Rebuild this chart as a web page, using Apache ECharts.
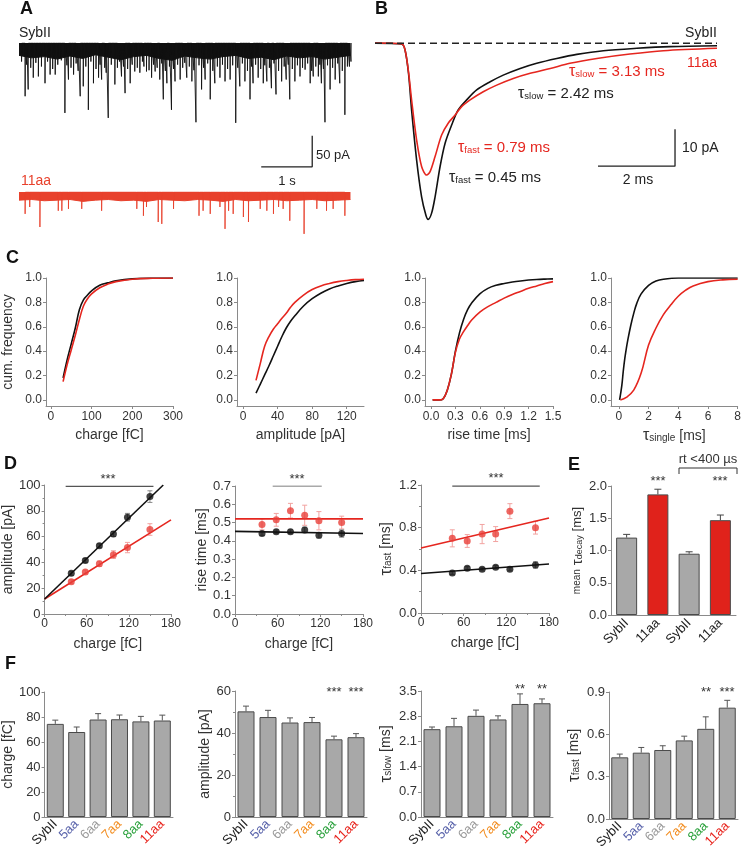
<!DOCTYPE html>
<html><head><meta charset="utf-8">
<script src="https://cdn.jsdelivr.net/npm/echarts@6/dist/echarts.min.js"></script>
<style>html,body{margin:0;padding:0;background:#fff}#c{width:744px;height:853px}</style>
</head><body><div id="c"></div>
<script>
// ===================== DATA =====================
// Panel A: raw traces (time s, amplitude pA of events)
const aBlackEventT = [0.12,0.18,0.28,0.38,0.51,0.61,0.71,0.90,0.97,1.07,1.20,1.26,1.36,1.46,1.56,1.62,1.75,1.88,2.01,2.08,2.18,2.27,2.37,2.50,2.60,2.67,2.76,2.83,2.90,2.99,3.06,3.16,3.29,3.39,3.47,3.58,3.65,3.75,3.84,3.94,4.04,4.14,4.25,4.33,4.43,4.53,4.59,4.69,4.79,4.86,4.95,5.04,5.15,5.24,5.31,5.41,5.51,5.61,5.71,5.77,5.87,5.93,6.00,6.10,6.20,6.29,6.39,6.48];
const aBlackEventAmp = [86,75,56,54,65,51,51,113,59,51,86,70,108,65,56,59,121,67,54,81,65,46,48,46,56,46,59,91,65,108,62,59,56,62,128,75,59,91,65,56,62,59,129,70,62,91,65,56,65,62,73,83,62,59,91,62,54,43,65,54,54,65,128,75,59,65,116,38];
const aBlackSmallT = [0.05,0.15,0.23,0.33,0.44,0.56,0.66,0.76,0.83,0.94,1.02,1.12,1.16,1.31,1.41,1.51,1.59,1.68,1.71,1.81,1.93,1.97,2.05,2.13,2.22,2.32,2.42,2.45,2.55,2.64,2.71,2.80,2.87,2.95,3.03,3.11,3.21,3.25,3.34,3.43,3.53,3.62,3.70,3.80,3.89,3.99,4.09,4.19,4.29,4.38,4.48,4.56,4.64,4.74,4.82,4.91,5.00,5.09,5.20,5.28,5.36,5.46,5.56,5.66,5.74,5.82,5.90,5.97,6.05,6.15,6.25,6.34,6.44,6.51];
const aBlackSmallAmp = [30,35,40,32,38,30,42,35,28,36,40,33,45,38,30,42,35,40,48,35,40,30,38,42,35,40,30,38,44,35,40,33,45,38,42,35,40,32,38,44,36,40,33,45,38,35,42,36,40,33,45,38,35,42,36,40,33,45,38,35,42,36,40,33,45,38,35,42,36,40,33,45,38,30];
const aBandT = [0,0.25,0.5,0.75,1.0,1.25,1.5,1.75,2.0,2.25,2.5,2.75,3.0,3.25,3.5,3.75,4.0,4.25,4.5,4.75,5.0,5.25,5.5,5.75,6.0,6.25,6.5];
const aBlackBandAmp = [20,24,22,26,21,25,19,23,27,22,20,25,28,21,24,26,22,20,25,23,27,21,24,22,26,23,20];
const aRedBandAmp = [13,12,14,13,12,15,13,12,14,13,15,12,13,14,12,13,15,12,14,13,12,14,13,12,14,13,12];
const aRedEventT = [0.12,0.21,0.41,0.77,0.84,0.97,1.23,1.62,2.31,2.44,2.50,2.73,2.80,3.03,3.53,3.61,3.75,3.94,4.04,4.11,4.20,4.40,4.50,4.73,4.86,4.99,5.09,5.18,5.31,5.59,5.84,6.03,6.16,6.39];
const aRedEventAmp = [35,24,56,30,30,27,27,30,27,38,24,48,51,27,38,30,35,24,59,30,35,40,48,27,30,35,24,27,46,67,27,30,27,38];
const aScale = {t: 5.75, base: -200, dt: 1, dy: 50};   // 1 s / 50 pA

// Panel B: averaged events (time ms, current pA)
const bBlackT = [0,0.69,0.78,0.87,0.95,1.08,1.21,1.32,1.38,1.47,1.56,1.69,1.82,1.99,2.16,2.38,2.64,2.99,3.33,3.77,4.20,4.72,5.24,5.93,6.80,7.66,8.88];
const bBlackI = [0,-0.2,-1.8,-8.1,-18.0,-31.5,-41.5,-46.4,-47.6,-45.9,-41.5,-33.3,-27.0,-22.1,-18.0,-15.3,-12.6,-10.4,-8.6,-6.8,-5.4,-4.1,-3.0,-2.0,-1.35,-0.9,-0.65];
const bRedT = [0,0.69,0.78,0.87,0.95,1.08,1.21,1.34,1.43,1.56,1.73,1.90,2.08,2.25,2.47,2.81,3.16,3.59,4.03,4.55,5.06,5.76,6.62,7.49,8.88];
const bRedI = [0.1,-0.1,-1.8,-7.7,-15.3,-26.1,-33.3,-35.6,-34.7,-30.6,-24.8,-21.6,-19.4,-17.1,-15.3,-13.1,-11.3,-9.5,-8.1,-6.8,-5.4,-4.1,-2.9,-2.0,-1.35];
const bScale = {t: 7.79, base: -33.2, dt: 2, dy: 10};  // 2 ms / 10 pA

// Panel C: cumulative distributions
const cChargeX = [30,40,50,60,70,80,90,100,120,140,160,200,250,300];
const cChargeBlack = [0.18,0.33,0.46,0.59,0.74,0.82,0.86,0.895,0.94,0.96,0.977,0.993,0.999,1.0];
const cChargeRed = [0.15,0.29,0.41,0.53,0.66,0.77,0.83,0.87,0.92,0.95,0.97,0.99,0.998,1.0];
const cAmpX = [15,20,25,30,35,40,45,50,55,60,70,80,90,100,110,120,130,140];
const cAmpBlack = [0.055,0.13,0.205,0.28,0.36,0.44,0.52,0.59,0.645,0.69,0.77,0.83,0.875,0.91,0.935,0.955,0.97,0.98];
const cAmpRed = [0.16,0.30,0.44,0.52,0.58,0.625,0.67,0.71,0.76,0.80,0.86,0.905,0.935,0.955,0.97,0.98,0.987,0.99];
const cRiseX = [0.02,0.1,0.15,0.2,0.25,0.3,0.35,0.4,0.45,0.5,0.6,0.7,0.8,0.9,1.0,1.1,1.2,1.3,1.4,1.5];
const cRiseBlack = [0,0,0.01,0.08,0.21,0.40,0.55,0.66,0.74,0.795,0.87,0.915,0.94,0.955,0.967,0.976,0.983,0.988,0.991,0.993];
const cRiseRed = [0,0,0.01,0.08,0.21,0.39,0.50,0.56,0.61,0.655,0.72,0.765,0.80,0.835,0.865,0.89,0.915,0.935,0.955,0.97];
const cTauBlackX = [0.05,0.2,0.3,0.4,0.5,0.6,0.8,1.0,1.2,1.5,2.0,2.5,3.0,4.0,6.0,8.0];
const cTauBlack = [0,0.12,0.24,0.34,0.42,0.49,0.61,0.71,0.79,0.87,0.94,0.975,0.99,1.0,1.0,1.0];
const cTauRedX = [0.1,0.5,1.0,1.5,2.0,2.5,3.0,3.5,4.0,4.5,5.0,6.0,7.0,8.0];
const cTauRed = [0,0.02,0.08,0.22,0.45,0.59,0.70,0.78,0.85,0.90,0.935,0.97,0.985,0.99];
const cYTicks = [0,0.2,0.4,0.6,0.8,1.0];

// Panel D: binned by charge
const dChargeAB = [38,58,78,98,118,150];
const dAmpBlack = [31.5,41.5,53,62,75,91], dAmpBlackErr = [1.5,1.5,1.5,2,3,4.5];
const dAmpRed = [25,32.5,39,46,51.5,65.5], dAmpRedErr = [1.5,1.5,2,3,4,4.5];
const dAmpFitBlack = [[0,11.6],[169,100]], dAmpFitRed = [[0,11.6],[180,73]];
const dRiseBlack = [0.44,0.45,0.45,0.46,0.43,0.44], dRiseBlackErr = [0.01,0.01,0.01,0.015,0.015,0.02];
const dRiseRed = [0.49,0.515,0.565,0.54,0.51,0.50], dRiseRedErr = [0.03,0.035,0.04,0.055,0.05,0.035];
const dRiseFitBlack = [[0,0.452],[180,0.44]], dRiseFitRed = [[0,0.52],[180,0.52]];
const dChargeC = [44,65,86,105,125,161];
const dFastBlack = [0.375,0.42,0.41,0.43,0.41,0.45], dFastBlackErr = [0.015,0.015,0.015,0.015,0.015,0.03];
const dFastRed = [0.70,0.675,0.74,0.74,0.955,0.80], dFastRedErr = [0.08,0.06,0.09,0.07,0.07,0.06];
const dFastFitBlack = [[0,0.37],[180,0.46]], dFastFitRed = [[0,0.61],[180,0.89]];
const dSigAmp = [[30,99],[155,99]], dSigRise = [[53,0.7],[122,0.7]], dSigFast = [[44,1.19],[167,1.19]];

// Panel E
const eCats = ['SybII','11aa','SybII','11aa'];
const eVals = [1.2,1.87,0.95,1.47];
const eErr = [0.05,0.08,0.03,0.08];

// Panel F
const fCats = ['SybII','5aa','6aa','7aa','8aa','11aa'];
const fCatColors = ['#222','#5862aa','#9a9a9a','#f28c1e','#2aa13c','#e8231c'];
const fCharge = [74.5,68,78,78.2,76.5,77.2], fChargeErr = [3,4,4.7,3.4,4,4.3];
const fAmp = [50.3,47.6,45,45.2,37,38], fAmpErr = [2.5,3.2,2.2,2.2,1.5,1.7];
const fSlow = [2.44,2.52,2.81,2.71,3.14,3.16], fSlowErr = [0.06,0.22,0.16,0.1,0.28,0.12];
const fFast = [0.437,0.47,0.489,0.557,0.639,0.789], fFastErr = [0.023,0.037,0.03,0.03,0.085,0.052];

// ===================== BUILD =====================
const FONT = '"Liberation Sans", Arial, Helvetica, sans-serif';
const AXC = '#8a8a8a', TXC = '#333', RED = '#e5261f', BLK = '#111', TRED = '#e8412c';

function merge(a, b) {
  for (const k in b) {
    if (b[k] && typeof b[k] === 'object' && !Array.isArray(b[k]) && a[k] && typeof a[k] === 'object' && !Array.isArray(a[k])) merge(a[k], b[k]);
    else a[k] = b[k];
  }
  return a;
}
function axis(gi, o) {
  return merge({
    type: 'value', gridIndex: gi, splitLine: {show: false},
    axisLine: {show: true, onZero: false, lineStyle: {color: AXC, width: 1}},
    axisTick: {show: true, length: 3, lineStyle: {color: AXC}},
    minorTick: {show: false, length: 2, lineStyle: {color: AXC}},
    axisLabel: {fontSize: 12, color: TXC, fontFamily: FONT, margin: 4},
    nameLocation: 'middle',
    nameTextStyle: {fontSize: 14, color: TXC, fontFamily: FONT}
  }, o);
}
const f1 = v => (+v).toFixed(1);
const zip = (xs, ys) => xs.map((x, i) => [x, ys[i]]);
const tauRich = (big, small) => ({
  t: {fontSize: big, fontFamily: FONT, color: TXC},
  s: {fontSize: small, fontFamily: FONT, color: TXC, padding: [4, 0, 0, 0]},
  n: {fontSize: 13, fontFamily: FONT, color: TXC},
  m: {fontSize: 10, fontFamily: FONT, color: TXC}
});

const grids = [
  {left: 19, top: 43, width: 333, height: 130},      // 0 A black
  {left: 19, top: 192, width: 333, height: 50},      // 1 A red
  {left: 375, top: 39.6, width: 342, height: 188.7}, // 2 B
  {left: 45, top: 278, width: 128, height: 128},     // 3 C1
  {left: 237, top: 278, width: 127, height: 128},    // 4 C2
  {left: 425, top: 278, width: 128, height: 128},    // 5 C3
  {left: 611, top: 278, width: 128, height: 128},    // 6 C4
  {left: 43, top: 485, width: 128, height: 129},     // 7 D1
  {left: 235, top: 486, width: 128, height: 128},    // 8 D2
  {left: 421, top: 485, width: 128, height: 128},    // 9 D3
  {left: 611, top: 486, width: 125, height: 129},    // 10 E
  {left: 42, top: 692, width: 131, height: 125},     // 11 F1
  {left: 235, top: 691, width: 132, height: 126},    // 12 F2
  {left: 421, top: 691, width: 132, height: 126},    // 13 F3
  {left: 609, top: 692, width: 129, height: 127}     // 14 F4
];

const xAxes = [], yAxes = [];
// A, B hidden axes
xAxes.push({type: 'value', gridIndex: 0, show: false, min: 0, max: 6.53});
yAxes.push({type: 'value', gridIndex: 0, show: false, min: -210, max: 0});
xAxes.push({type: 'value', gridIndex: 1, show: false, min: 0, max: 6.53});
yAxes.push({type: 'value', gridIndex: 1, show: false, min: -80, max: 0});
xAxes.push({type: 'value', gridIndex: 2, show: false, min: 0, max: 8.88});
yAxes.push({type: 'value', gridIndex: 2, show: false, min: -50, max: 1});
// C
const cX = [
  {min: -12, max: 300, vals: [0,100,200,300], name: 'charge [fC]', fmt: v => v},
  {min: -7, max: 140, vals: [0,40,80,120], name: 'amplitude [pA]', fmt: v => v},
  {min: -0.074, max: 1.5, vals: [0,0.3,0.6,0.9,1.2,1.5], name: 'rise time [ms]', fmt: f1},
  {min: -0.53, max: 8, vals: [0,2,4,6,8], name: '{t|τ}{s|single} {n|[ms]}', fmt: v => v}
];
cX.forEach((c, i) => {
  const gi = 3 + i;
  xAxes.push(axis(gi, {min: c.min, max: c.max, name: c.name, nameGap: 22,
    nameTextStyle: {rich: merge(tauRich(16, 10), {n: {fontSize: 14}})},
    axisTick: {customValues: c.vals}, axisLabel: {customValues: c.vals, formatter: c.fmt, margin: 5}}));
  yAxes.push(axis(gi, {min: -0.05, max: 1.0, name: i === 0 ? 'cum. frequency' : '', nameGap: 31,
    axisTick: {customValues: cYTicks}, axisLabel: {customValues: cYTicks, formatter: f1}}));
});
// D
xAxes.push(axis(7, {min: 0, max: 180, interval: 60, minorTick: {show: true, splitNumber: 2}, name: 'charge [fC]', nameGap: 23}));
yAxes.push(axis(7, {min: 0, max: 100, interval: 20, minorTick: {show: true, splitNumber: 2}, name: 'amplitude [pA]', nameGap: 26, axisLabel: {fontSize: 13}}));
xAxes.push(axis(8, {min: 0, max: 180, interval: 60, minorTick: {show: true, splitNumber: 2}, name: 'charge [fC]', nameGap: 23}));
yAxes.push(axis(8, {min: 0, max: 0.7, interval: 0.1, name: 'rise time [ms]', nameGap: 25, axisLabel: {formatter: f1, fontSize: 13}}));
xAxes.push(axis(9, {min: 0, max: 180, interval: 60, minorTick: {show: true, splitNumber: 2}, name: 'charge [fC]', nameGap: 23}));
yAxes.push(axis(9, {min: 0, max: 1.2, interval: 0.4, minorTick: {show: true, splitNumber: 2}, name: '{t|τ}{s|fast} {n|[ms]}', nameGap: 21,
  nameTextStyle: {rich: merge(tauRich(17, 10), {n: {fontSize: 14}})}, axisLabel: {formatter: f1, fontSize: 13}}));
// E
xAxes.push(axis(10, {type: 'category', data: eCats, axisTick: {show: false}, axisLabel: {rotate: 45, fontSize: 13, margin: 6, color: '#222', interval: 0}}));
yAxes.push(axis(10, {min: 0, max: 2, interval: 0.5, name: '{m|mean} {t|τ}{s|decay} {n|[ms]}', nameGap: 24,
  nameTextStyle: {rich: tauRich(15, 9)}, axisLabel: {formatter: f1, fontSize: 13}}));
// F
const fY = [
  {min: 0, max: 100, interval: 20, name: 'charge [fC]', gap: 26, fmt: v => v},
  {min: 0, max: 60, interval: 20, name: 'amplitude [pA]', gap: 22, fmt: v => v, minor: true},
  {min: 0, max: 3.5, interval: 0.7, name: '{t|τ}{s|slow} {n|[ms]}', gap: 18, fmt: f1},
  {min: 0, max: 0.9, interval: 0.3, name: '{t|τ}{s|fast} {n|[ms]}', gap: 22, fmt: f1}
];
fY.forEach((c, i) => {
  const gi = 11 + i;
  xAxes.push(axis(gi, {type: 'category', data: fCats, axisTick: {show: false},
    axisLabel: {rotate: 45, fontSize: 13, margin: 5, interval: 0, color: (v, idx) => fCatColors[idx]}}));
  yAxes.push(axis(gi, {min: c.min, max: c.max, interval: c.interval, name: c.name, nameGap: c.gap,
    minorTick: {show: !!c.minor, splitNumber: 2},
    nameTextStyle: {rich: merge(tauRich(17, 10), {n: {fontSize: 14}})}, axisLabel: {formatter: c.fmt, fontSize: 13}}));
});

// ---------- series ----------
const series = [];
function spikes(ts, amps) {
  const ev = ts.map((t, i) => [t, amps[i]]).sort((a, b) => a[0] - b[0]);
  const d = [];
  ev.forEach(([t, a]) => { d.push([t, 0], [t, -a], [t + 0.004, 0]); });
  return d;
}
const lineS = (gi, data, color, w, extra) => merge({type: 'line', xAxisIndex: gi, yAxisIndex: gi, data, showSymbol: false, symbol: 'none',
  silent: true, animation: false, lineStyle: {color, width: w}, itemStyle: {color}}, extra || {});

// A
series.push(lineS(0, zip(aBandT, aBlackBandAmp.map(v => -v)), BLK, 1, {areaStyle: {color: BLK, opacity: 1, origin: 'end'}}));
series.push(lineS(0, spikes(aBlackEventT.concat(aBlackSmallT), aBlackEventAmp.concat(aBlackSmallAmp)), BLK, 0.9));
series.push(lineS(1, zip(aBandT, aRedBandAmp.map(v => -v)), TRED, 1, {areaStyle: {color: TRED, opacity: 1, origin: 'end'}}));
series.push(lineS(1, spikes(aRedEventT, aRedEventAmp), TRED, 0.9));
series.push(lineS(0, [[aScale.t - aScale.dt, aScale.base], [aScale.t, aScale.base], [aScale.t, aScale.base + aScale.dy]], '#222', 1.3));
// B
series.push(lineS(2, zip(bBlackT, bBlackI), BLK, 1.6, {smooth: 0.3}));
series.push(lineS(2, zip(bRedT, bRedI), RED, 1.6, {smooth: 0.3}));
series.push(lineS(2, [[0, 0], [8.88, 0]], '#222', 1.4, {lineStyle: {type: [7, 4]}}));
series.push(lineS(2, [[bScale.t - bScale.dt, bScale.base], [bScale.t, bScale.base], [bScale.t, bScale.base + bScale.dy]], '#222', 1.3));
// C
[[cChargeX, cChargeBlack, cChargeX, cChargeRed], [cAmpX, cAmpBlack, cAmpX, cAmpRed],
 [cRiseX, cRiseBlack, cRiseX, cRiseRed], [cTauBlackX, cTauBlack, cTauRedX, cTauRed]].forEach((c, i) => {
  series.push(lineS(3 + i, zip(c[0], c[1]), BLK, 1.6, {smooth: 0.4}));
  series.push(lineS(3 + i, zip(c[2], c[3]), RED, 1.6, {smooth: 0.4}));
});
// error bars (custom)
function errS(gi, xs, ys, es, color, both, cap) {
  return {type: 'custom', xAxisIndex: gi, yAxisIndex: gi, silent: true, animation: false, z: 3,
    data: xs.map((x, i) => [x, ys[i], es[i]]),
    renderItem(params, api) {
      const x = api.value(0), y = api.value(1), e = api.value(2);
      const top = api.coord([x, y + e]);
      const bot = api.coord([x, both ? y - e : y]);
      const st = {stroke: color, lineWidth: 1};
      const ch = [
        {type: 'line', shape: {x1: top[0], y1: top[1], x2: bot[0], y2: bot[1]}, style: st},
        {type: 'line', shape: {x1: top[0] - cap, y1: top[1], x2: top[0] + cap, y2: top[1]}, style: st}
      ];
      if (both) ch.push({type: 'line', shape: {x1: bot[0] - cap, y1: bot[1], x2: bot[0] + cap, y2: bot[1]}, style: st});
      return {type: 'group', children: ch};
    }};
}
const scat = (gi, xs, ys, color) => ({type: 'scatter', xAxisIndex: gi, yAxisIndex: gi, data: zip(xs, ys), symbolSize: 7,
  itemStyle: {color}, silent: true, animation: false, z: 4});
// D
const D = [
  [7, dChargeAB, dAmpBlack, dAmpBlackErr, dAmpRed, dAmpRedErr, dAmpFitBlack, dAmpFitRed, dSigAmp],
  [8, dChargeAB, dRiseBlack, dRiseBlackErr, dRiseRed, dRiseRedErr, dRiseFitBlack, dRiseFitRed, dSigRise],
  [9, dChargeC, dFastBlack, dFastBlackErr, dFastRed, dFastRedErr, dFastFitBlack, dFastFitRed, dSigFast]
];
D.forEach(([gi, xs, yb, eb, yr, er, fb, fr, sig]) => {
  series.push(lineS(gi, fr, RED, 1.6));
  series.push(lineS(gi, fb, BLK, 1.6));
  series.push(errS(gi, xs, yr, er, '#f2a3a0', true, 2.5));
  series.push(errS(gi, xs, yb, eb, '#888', true, 2.5));
  series.push(scat(gi, xs, yr, '#e8403a'));
  series.push(scat(gi, xs, yb, BLK));
  series.push(lineS(gi, sig, '#555', 1.2));
});
// E
series.push({type: 'bar', xAxisIndex: 10, yAxisIndex: 10, data: eVals, barWidth: 21, silent: true, animation: false,
  itemStyle: {color: p => (p.dataIndex % 2 ? '#e0221b' : '#a8a8a8'), borderColor: '#4a4a4a', borderWidth: 1}});
series.push(errS(10, [0,1,2,3], eVals, eErr, '#444', false, 3.5));
// F
[[fCharge, fChargeErr], [fAmp, fAmpErr], [fSlow, fSlowErr], [fFast, fFastErr]].forEach(([v, e], i) => {
  series.push({type: 'bar', xAxisIndex: 11 + i, yAxisIndex: 11 + i, data: v, barWidth: 17, silent: true, animation: false,
    itemStyle: {color: '#a8a8a8', borderColor: '#4a4a4a', borderWidth: 1}});
  series.push(errS(11 + i, [0,1,2,3,4,5], v, e, '#555', false, 3));
});

// ---------- annotations ----------
const T = (x, y, text, o) => ({type: 'text', x, y, silent: true, style: merge({text, fill: TXC,
  font: '13px ' + FONT, align: 'center', verticalAlign: 'middle', textAlign: 'center', textVerticalAlign: 'middle'}, o || {})});
const L = (x, y, t) => T(x, y, t, {font: 'bold 18px ' + FONT, fill: '#111', align: 'left', textAlign: 'left'});
const tauTxt = (x, y, sub, rest, color) => T(x, y, '{t|τ}{s|' + sub + '}{r|' + rest + '}', {
  fill: color, align: 'left', textAlign: 'left', font: '15px ' + FONT,
  rich: {t: {fontSize: 16, fontFamily: FONT, fill: color}, s: {fontSize: 9.5, fontFamily: FONT, fill: color, padding: [5, 0, 0, 0]},
         r: {fontSize: 15, fontFamily: FONT, fill: color}}});
const graphics = [
  L(20, 9, 'A'), L(375, 9, 'B'), L(6, 258, 'C'), L(4, 464, 'D'), L(568, 465, 'E'), L(5, 664, 'F'),
  T(19, 33, 'SybII', {font: '14px ' + FONT, fill: '#222', align: 'left', textAlign: 'left'}),
  T(21, 181, '11aa', {font: '14px ' + FONT, fill: TRED, align: 'left', textAlign: 'left'}),
  T(316, 155, '50 pA', {align: 'left', textAlign: 'left', fill: '#222'}),
  T(287, 181, '1 s', {fill: '#222'}),
  T(717, 33, 'SybII', {font: '14px ' + FONT, fill: '#222', align: 'right', textAlign: 'right'}),
  T(717, 63, '11aa', {font: '14px ' + FONT, fill: RED, align: 'right', textAlign: 'right'}),
  tauTxt(569, 72, 'slow', ' = 3.13 ms', RED),
  tauTxt(518, 94, 'slow', ' = 2.42 ms', '#222'),
  tauTxt(458, 148, 'fast', ' = 0.79 ms', RED),
  tauTxt(449, 178, 'fast', ' = 0.45 ms', '#222'),
  T(682, 148, '10 pA', {font: '14px ' + FONT, align: 'left', textAlign: 'left', fill: '#222'}),
  T(638, 180, '2 ms', {font: '14px ' + FONT, fill: '#222'}),
  T(108, 479, '***'), T(297, 479, '***'), T(496, 478, '***'),
  T(658, 481, '***'), T(720, 481, '***'),
  T(708, 459, 'rt <400 µs', {font: '13px ' + FONT}),
  {type: 'polyline', silent: true, shape: {points: [[679, 474], [679, 468], [737, 468], [737, 474]]}, style: {stroke: '#333', lineWidth: 1, fill: null}},
  T(334, 692, '***'), T(356, 692, '***'),
  T(520, 689, '**'), T(542, 689, '**'),
  T(706, 692, '**'), T(727, 692, '***')
];

const chart = echarts.init(document.getElementById('c'), null, {renderer: 'canvas'});
chart.setOption({
  animation: false, backgroundColor: '#fff',
  textStyle: {fontFamily: FONT},
  grid: grids, xAxis: xAxes, yAxis: yAxes, series, graphic: graphics
});
</script></body></html>
